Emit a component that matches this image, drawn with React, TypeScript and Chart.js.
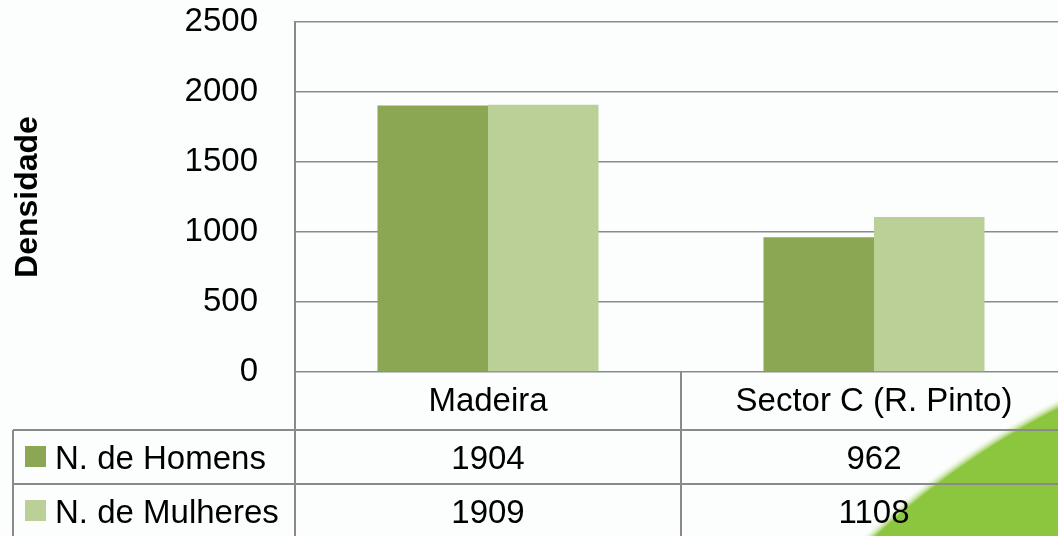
import React, { useEffect, useRef } from "react";
import { Chart, registerables } from "chart.js";

Chart.register(...registerables);

const categories = ["Madeira", "Sector C (R. Pinto)"];
const seriesLabels = ["N. de Homens", "N. de Mulheres"];
const homens = [1904, 962];
const mulheres = [1909, 1108];
const yTicks = [0, 500, 1000, 1500, 2000, 2500];
const yTitle = "Densidade";

const FONT = "'Liberation Sans', Arial, sans-serif";
const LINE = "#8a8a8a";
const COLORS = ["#8ba753", "#bbd097"];
const BG = "#fcfefe";

const tablePlugin = {
  id: "dataTable",
  beforeDraw(chart: any) {
    const { ctx, width, height } = chart;
    ctx.save();
    ctx.fillStyle = BG;
    ctx.fillRect(0, 0, width, height);
    // decorative green swoosh in the lower-right corner
    const cx = 1420, cy = 1120, r = 800;
    const g = ctx.createRadialGradient(cx, cy, 0, cx, cy, r + 8);
    g.addColorStop(0, "#8cc63f");
    g.addColorStop((r - 2) / (r + 8), "#8cc63f");
    g.addColorStop(1, "rgba(255,255,255,0)");
    ctx.fillStyle = g;
    ctx.beginPath();
    ctx.arc(cx, cy, r + 8, 0, Math.PI * 2);
    ctx.fill();
    ctx.restore();
  },
  afterDraw(chart: any) {
    const { ctx, chartArea, height, width } = chart;
    const xs = chart.scales.x;
    const top = chartArea.bottom;
    const row1 = top + 58;
    const row2 = row1 + 54;
    const left = 13;
    const mid = (xs.getPixelForValue(0) + xs.getPixelForValue(1)) / 2;
    ctx.save();
    ctx.strokeStyle = LINE;
    ctx.lineWidth = 2;
    ctx.beginPath();
    ctx.moveTo(chartArea.left, top);
    ctx.lineTo(chartArea.left, height);
    ctx.moveTo(mid, top);
    ctx.lineTo(mid, height);
    ctx.moveTo(left, row1);
    ctx.lineTo(left, height);
    ctx.moveTo(left, row1);
    ctx.lineTo(width, row1);
    ctx.moveTo(left, row2);
    ctx.lineTo(width, row2);
    ctx.stroke();

    ctx.font = `33px ${FONT}`;
    ctx.textBaseline = "alphabetic";
    const series = [homens, mulheres];
    const baselines = [row1 + 39, row2 + 39];
    series.forEach((vals, si) => {
      const b = baselines[si];
      ctx.fillStyle = COLORS[si];
      ctx.fillRect(25, b - 23, 21, 21);
      ctx.fillStyle = "#000";
      ctx.textAlign = "left";
      ctx.fillText(chart.data.datasets[si].label, 55, b);
      ctx.textAlign = "center";
      vals.forEach((v, ci) => {
        ctx.fillText(String(v), xs.getPixelForValue(ci), b);
      });
    });
    ctx.restore();
  },
};

export default function App() {
  const ref = useRef<HTMLCanvasElement>(null);
  useEffect(() => {
    if (!ref.current) return;
    const chart = new Chart(ref.current, {
      type: "bar",
      data: {
        labels: categories,
        datasets: [
          { label: seriesLabels[0], data: homens, backgroundColor: COLORS[0], borderWidth: 0 },
          { label: seriesLabels[1], data: mulheres, backgroundColor: COLORS[1], borderWidth: 0 },
        ],
      },
      options: {
        responsive: false,
        animation: false,
        layout: { padding: { top: 22, left: 0, right: 0, bottom: 0 } },
        plugins: { legend: { display: false }, tooltip: { enabled: false } },
        datasets: { bar: { categoryPercentage: 0.5725, barPercentage: 1 } },
        scales: {
          x: {
            grid: { display: false, drawTicks: false },
            border: { display: false },
            ticks: { color: "#000", font: { family: FONT, size: 33 }, padding: 10, maxRotation: 0 },
            afterFit: (s: any) => { s.height = 164; s.paddingLeft = 0; s.paddingRight = 0; },
          },
          y: {
            min: 0,
            max: 2500,
            afterBuildTicks: (s: any) => { s.ticks = yTicks.map((v) => ({ value: v })); },
            grid: { color: LINE, lineWidth: 1.5, drawTicks: false },
            border: { color: LINE, width: 2 },
            ticks: {
              color: "#000",
              font: { family: FONT, size: 33 },
              padding: 37,
              callback: (v: any) => String(v),
            },
            title: {
              display: true,
              text: yTitle,
              color: "#000",
              font: { family: FONT, size: 32, weight: "bold" },
              padding: { top: 9, bottom: 0 },
            },
            afterFit: (s: any) => { s.width = 295; s.paddingTop = 0; s.paddingBottom = 0; },
          },
        },
      },
      plugins: [tablePlugin],
    });
    return () => chart.destroy();
  }, []);
  return (
    <div style={{ position: "fixed", left: 0, top: 0, width: 1058, height: 536, overflow: "hidden", background: BG }}>
      <canvas ref={ref} width={1067} height={536} />
    </div>
  );
}
